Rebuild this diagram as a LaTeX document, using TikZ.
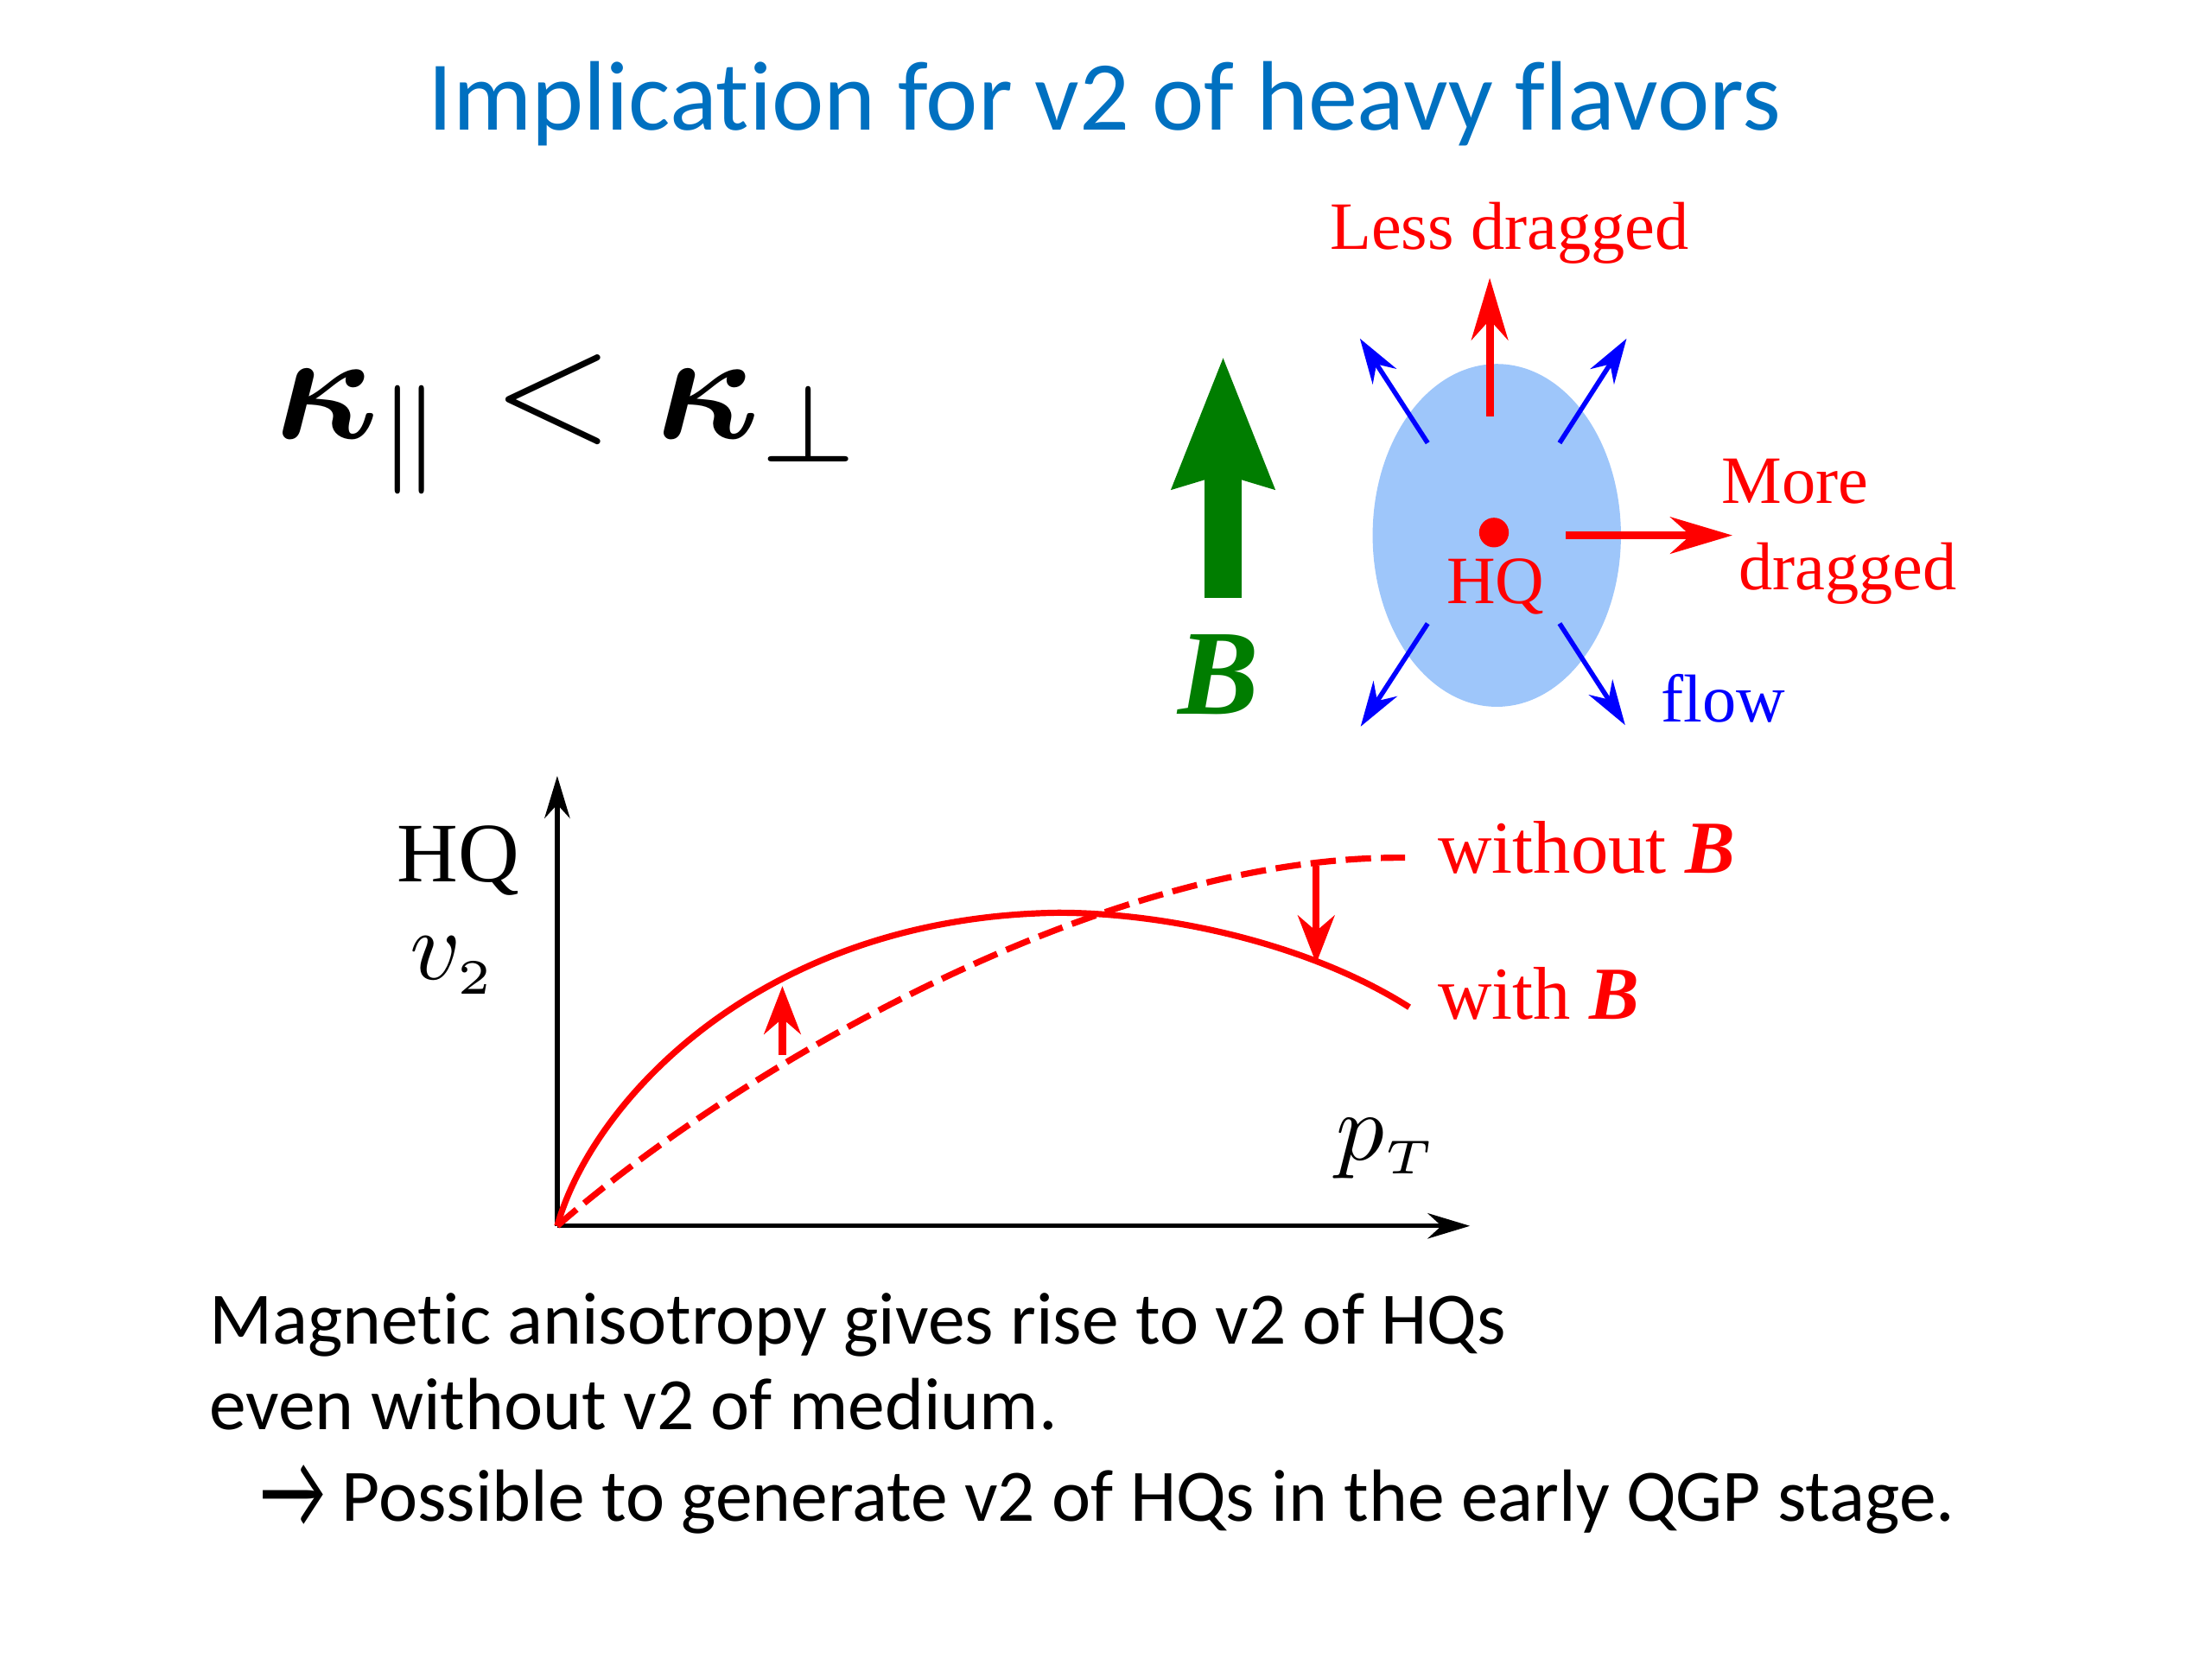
\documentclass[tikz,border=0pt]{standalone}
\usepackage{amssymb,amsmath,bm}
\usepackage[no-math]{fontspec}
\usetikzlibrary{arrows.meta,positioning}
\newfontfamily\calfont[Ligatures=NoCommon]{Carlito}
\newfontfamily\timesfont{Liberation Serif}
\definecolor{slideblue}{RGB}{0,112,192}
\definecolor{fieldgreen}{RGB}{0,125,0}
\definecolor{mediumblue}{RGB}{158,198,250}
\tikzset{>={Stealth[length=15pt,width=9pt]}}
\tikzset{
  tag/.style={inner sep=0pt,font=\timesfont\fontsize{24}{28}\selectfont},
  curvetag/.style={inner sep=0pt,anchor=base west,red,font=\timesfont\fontsize{26.5}{30}\selectfont},
  flowarrow/.style={blue,line width=1.7pt,-{Stealth[length=16pt,width=10pt]}},
  dragarrow/.style={red,line width=2.7pt,-{Stealth[length=22pt,width=13pt]}},
  shiftarrow/.style={red,line width=2.5pt,-{Stealth[length=17pt,width=13pt]}},
  bodytext/.style={inner sep=0pt,anchor=base west,font=\calfont\fontsize{26.2}{30}\selectfont},
}
\begin{document}
\begin{tikzpicture}[x=0.5pt,y=-0.5pt]
\useasboundingbox (0,0) rectangle (1568,1176);
\node[anchor=base,inner sep=0pt,text=slideblue,font=\calfont\fontsize{35}{40}\selectfont] (title) at (783,92) {Implication for v2 of heavy flavors};
\node[anchor=base,inner sep=0pt] (kappa) at (404,311) {\scalebox{5.5}{$\bm{\kappa}_{\parallel}<\bm{\kappa}_{\perp}$}};

\coordinate (Bbot) at (867,424);
\coordinate (Btop) at (867,252);
\draw[fieldgreen,line width=13.4pt,-{Stealth[length=46pt,width=34pt,inset=4pt]}] (Bbot) -- (Btop);
\node[anchor=base,inner sep=0pt,text=fieldgreen,font=\timesfont\bfseries\itshape\fontsize{43}{46}\selectfont] (B) at (864,506) {B};

\fill[mediumblue] (1061,379.5) ellipse [x radius=44pt,y radius=60.75pt];
\node[circle,fill=red,inner sep=0pt,minimum size=10.5pt] (hq) at (1059,377.5) {};
\node[tag,red,anchor=base] (hqtext) at (1060,428) {HQ};
\coordinate (up0) at (1056,295);
\coordinate (up1) at (1056,197);
\coordinate (rt0) at (1110,379.5);
\coordinate (rt1) at (1228,379.5);
\draw[dragarrow] (up0) -- (up1);
\draw[dragarrow] (rt0) -- (rt1);
\node[tag,red,anchor=base] (less) at (1070,177) {Less dragged};
\node[tag,red,anchor=base west] (more) at (1220,357) {More};
\node[tag,red,anchor=base west] (dragged) at (1232,418) {dragged};
\coordinate (f1) at (1012,314);
\coordinate (g1) at (964,240);
\coordinate (f2) at (1105.5,314);
\coordinate (g2) at (1153,240);
\coordinate (f3) at (1012,442);
\coordinate (g3) at (964.5,515);
\coordinate (f4) at (1105.5,442);
\coordinate (g4) at (1152,514);
\draw[flowarrow] (f1) -- (g1);
\draw[flowarrow] (f2) -- (g2);
\draw[flowarrow] (f3) -- (g3);
\draw[flowarrow] (f4) -- (g4);
\node[tag,blue,anchor=base west] (flow) at (1177,512) {flow};

\coordinate (O) at (395,869);
\coordinate (ytip) at (395,550);
\coordinate (xtip) at (1042,869);
\draw[->,line width=1.6pt] (O) -- (ytip);
\draw[->,line width=1.6pt] (O) -- (xtip);
\coordinate (peak) at (750,647);
\coordinate (wend) at (999,714);
\coordinate (oend) at (996,608);
\draw[red,line width=2.2pt] (O) .. controls (420,780) and (540,650) .. (peak) .. controls (830,647) and (930,670) .. (wend);
\draw[red,line width=2.2pt,dash pattern=on 9pt off 3.5pt] (O) .. controls (520,760) and (780,606) .. (oend);
\coordinate (a0) at (554.6,748);
\coordinate (a1) at (554.6,699);
\coordinate (b0) at (933,614);
\coordinate (b1) at (933,683);
\draw[shiftarrow] (a0) -- (a1);
\draw[shiftarrow] (b0) -- (b1);
\node[curvetag] (without) at (1019,619) {without \textbf{\textit{B}}};
\node[curvetag] (with) at (1019,722.5) {with \textbf{\textit{B}}};
\node[anchor=base,inner sep=0pt,font=\timesfont\fontsize{30}{34}\selectfont] (hqax) at (325,625) {HQ};
\node[anchor=base,inner sep=0pt] (v2) at (321,694) {\scalebox{3.5}{$v_{\scriptscriptstyle 2}$}};
\node[anchor=base,inner sep=0pt] (pT) at (983,822) {\scalebox{3.4}{$p_{\scriptscriptstyle T}$}};

\node[bodytext] (line1) at (148,953) {Magnetic anisotropy gives rise to v2 of HQs};
\node[bodytext] (line2) at (148,1013.5) {even without v2 of medium.};
\node[bodytext] (line3) at (184,1078) {{\fontsize{30}{32}\selectfont\raisebox{-2.5pt}{\scalebox{0.85}[1.3]{→}}} Possible to generate v2 of HQs in the early QGP stage.};
\end{tikzpicture}
\end{document}
